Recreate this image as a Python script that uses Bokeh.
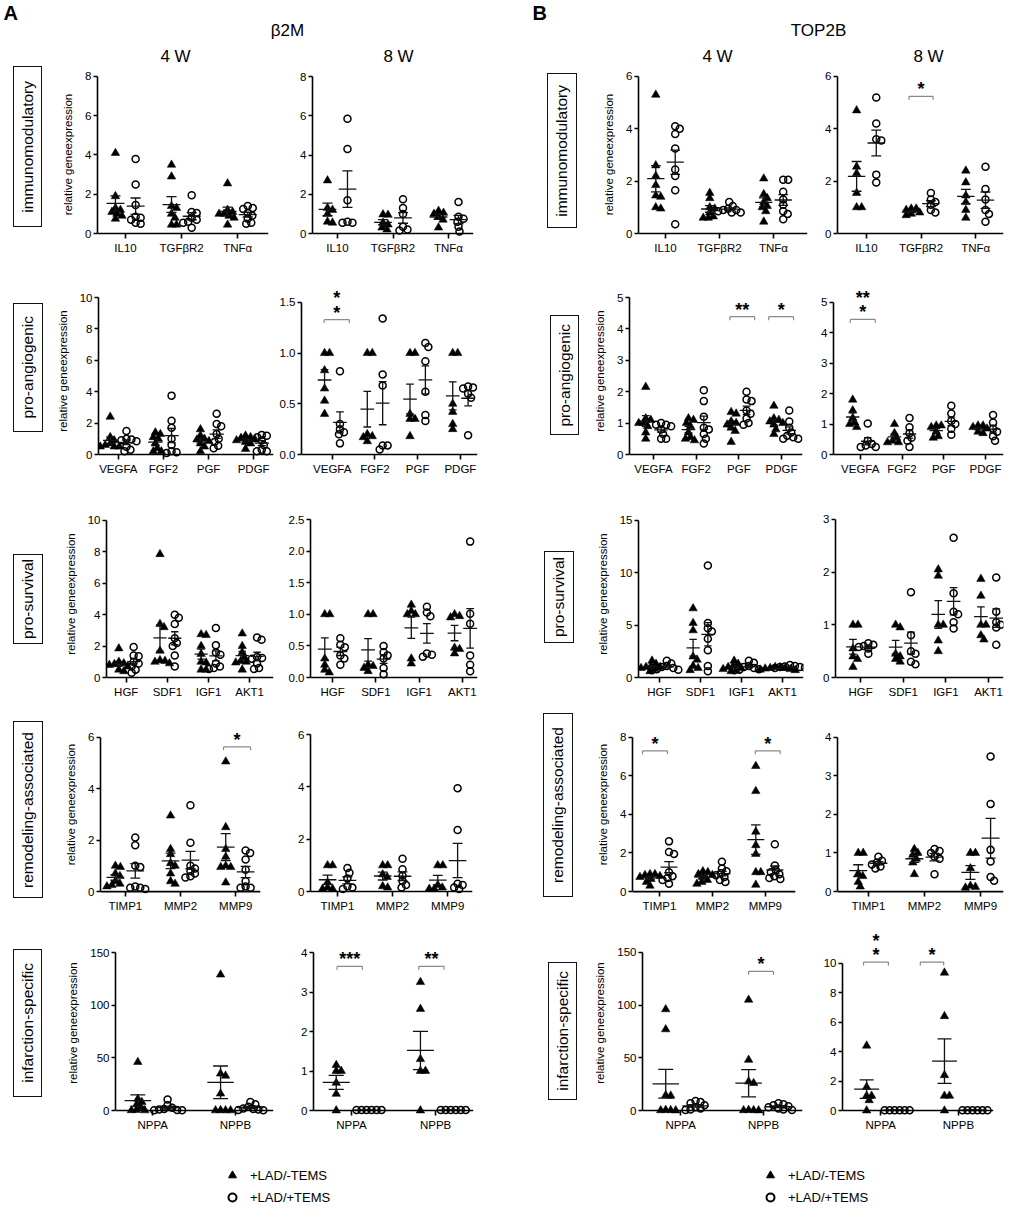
import numpy as np
from bokeh.plotting import figure
from bokeh.models import Range1d, FixedTicker, Legend, LegendItem, Span, Div
from bokeh.layouts import row, column
from bokeh.embed import file_html
from bokeh.resources import INLINE
from bokeh.core.properties import value

FONT = "Liberation Sans"

# ---------------------------------------------------------------- data
genes_imm = ["IL10", "TGFβR2", "TNFα"]
genes_ang = ["VEGFA", "FGF2", "PGF", "PDGF"]
genes_surv = ["HGF", "SDF1", "IGF1", "AKT1"]
genes_rem = ["TIMP1", "MMP2", "MMP9"]
genes_inf = ["NPPA", "NPPB"]
categories = ["immunomodulatory", "pro-angiogenic", "pro-survival",
              "remodeling-associated", "infarction-specific"]
legend_labels = ["+LAD/-TEMS", "+LAD/+TEMS"]

# immunomodulatory
b2m_4w_imm_tri = [[4.1, 1.9, 1.3, 1.2, 1.1, 1.0, 0.9, 0.75],
                  [3.5, 2.9, 1.4, 1.3, 1.0, 0.8, 0.45, 0.45],
                  [2.55, 1.2, 1.1, 1.0, 1.0, 0.9, 0.8, 0.45]]
b2m_4w_imm_circ = [[3.8, 2.5, 1.45, 0.85, 0.8, 0.7, 0.55, 0.5],
                   [1.95, 1.1, 1.05, 0.8, 0.7, 0.6, 0.55, 0.3],
                   [1.4, 1.3, 1.25, 1.05, 0.9, 0.75, 0.55, 0.5]]
b2m_8w_imm_tri = [[2.7, 1.3, 1.2, 1.0, 0.6, 0.55],
                  [0.97, 0.95, 0.55, 0.45, 0.3, 0.2],
                  [1.15, 1.05, 1.0, 0.85, 0.7, 0.3]]
b2m_8w_imm_circ = [[5.85, 4.3, 1.7, 0.6, 0.55, 0.55],
                   [1.75, 1.3, 1.0, 0.35, 0.2, 0.15],
                   [1.6, 0.85, 0.75, 0.6, 0.35, 0.1]]
top_4w_imm_tri = [[5.3, 2.6, 2.2, 1.85, 1.45, 1.4, 1.0, 0.95],
                  [1.55, 1.35, 1.0, 0.95, 0.8, 0.65, 0.6, 0.6],
                  [2.1, 1.5, 1.35, 1.2, 1.05, 1.0, 0.85, 0.45]]
top_4w_imm_circ = [[4.1, 4.0, 3.8, 3.25, 2.45, 2.2, 1.65, 0.35],
                   [1.2, 1.05, 0.95, 0.9, 0.9, 0.85, 0.8, 0.8],
                   [2.05, 2.05, 1.6, 1.3, 1.1, 0.85, 0.75, 0.55]]
top_8w_imm_tri = [[4.7, 2.55, 2.3, 1.55, 1.0, 1.0],
                  [0.95, 0.95, 0.9, 0.8, 0.75, 0.7],
                  [2.4, 1.95, 1.45, 1.2, 0.9, 0.6]]
top_8w_imm_circ = [[5.2, 4.2, 3.6, 3.55, 2.25, 1.95],
                   [1.55, 1.3, 1.2, 1.1, 0.9, 0.8],
                   [2.55, 1.7, 1.3, 0.9, 0.75, 0.45]]

# pro-angiogenic
b2m_4w_ang_tri = [[2.4, 1.1, 0.9, 0.7, 0.6, 0.5, 0.5, 0.5],
                  [1.4, 1.3, 1.1, 1.0, 0.7, 0.4, 0.2, 0.2],
                  [1.6, 1.2, 1.0, 0.95, 0.85, 0.7, 0.5, 0.2],
                  [1.2, 1.1, 1.05, 0.95, 0.9, 0.8, 0.7, 0.35]]
b2m_4w_ang_circ = [[1.5, 1.0, 0.95, 0.9, 0.85, 0.5, 0.3, 0.2],
                   [3.75, 2.15, 1.7, 1.0, 0.6, 0.2, 0.15, 0.1],
                   [2.6, 1.95, 1.8, 1.3, 1.0, 0.8, 0.55, 0.4],
                   [1.25, 1.2, 1.1, 0.9, 0.6, 0.3, 0.2, 0.2]]
b2m_8w_ang_tri = [[1.0, 1.0, 0.83, 0.65, 0.53, 0.4],
                  [1.0, 1.0, 0.2, 0.18, 0.17, 0.13],
                  [1.0, 1.0, 0.4, 0.35, 0.35, 0.18],
                  [1.0, 1.0, 0.5, 0.42, 0.3, 0.25]]
b2m_8w_ang_circ = [[0.82, 0.3, 0.25, 0.22, 0.2, 0.11],
                   [1.34, 0.79, 0.68, 0.09, 0.09, 0.05],
                   [1.1, 1.06, 0.92, 0.62, 0.39, 0.33],
                   [0.67, 0.66, 0.65, 0.6, 0.56, 0.19]]
top_4w_ang_tri = [[2.15, 1.15, 1.1, 1.0, 1.0, 0.9, 0.7, 0.5],
                  [1.15, 1.1, 1.0, 0.9, 0.7, 0.55, 0.5, 0.45],
                  [1.35, 1.3, 1.05, 1.0, 0.95, 0.85, 0.75, 0.4],
                  [1.55, 1.15, 1.1, 1.05, 1.0, 0.95, 0.8, 0.65]]
top_4w_ang_circ = [[1.0, 0.95, 0.95, 0.9, 0.8, 0.65, 0.5, 0.5],
                   [2.05, 1.7, 1.2, 0.85, 0.8, 0.65, 0.5, 0.35],
                   [2.0, 1.75, 1.7, 1.4, 1.3, 1.15, 1.0, 0.95],
                   [1.4, 1.05, 0.85, 0.7, 0.6, 0.55, 0.5, 0.5]]
top_8w_ang_tri = [[1.8, 1.45, 1.2, 1.05, 1.0, 0.9],
                  [1.0, 0.7, 0.55, 0.45, 0.4, 0.4],
                  [0.95, 0.95, 0.9, 0.75, 0.6, 0.55],
                  [0.95, 0.95, 0.9, 0.85, 0.75, 0.7]]
top_8w_ang_circ = [[1.02, 0.45, 0.35, 0.3, 0.25, 0.25],
                   [1.2, 0.9, 0.7, 0.55, 0.45, 0.25],
                   [1.6, 1.35, 1.1, 1.0, 0.85, 0.65],
                   [1.3, 1.05, 0.85, 0.75, 0.6, 0.45]]

# pro-survival
b2m_4w_surv_tri = [[1.85, 1.0, 0.9, 0.85, 0.8, 0.7, 0.5, 0.4],
                   [7.85, 3.4, 3.2, 1.7, 1.1, 1.05, 1.0, 0.9],
                   [2.75, 2.7, 2.0, 1.5, 1.0, 0.95, 0.5, 0.5],
                   [2.8, 2.0, 1.6, 1.3, 1.05, 1.0, 0.95, 0.5]]
b2m_4w_surv_circ = [[1.95, 1.4, 1.35, 1.0, 0.9, 0.7, 0.5, 0.3],
                    [4.0, 3.8, 3.4, 2.5, 2.2, 2.0, 1.4, 0.7],
                    [3.15, 2.05, 1.6, 1.45, 0.9, 0.7, 0.6, 0.55],
                    [2.55, 2.4, 1.3, 1.25, 1.2, 0.9, 0.6, 0.55]]
b2m_8w_surv_tri = [[1.0, 1.0, 0.3, 0.2, 0.12, 0.08],
                   [1.0, 1.0, 0.2, 0.18, 0.15, 0.1],
                   [1.15, 1.05, 1.0, 1.0, 0.3, 0.22],
                   [1.0, 0.97, 0.95, 0.47, 0.45, 0.38]]
b2m_8w_surv_circ = [[0.62, 0.52, 0.48, 0.35, 0.3, 0.2],
                    [0.5, 0.4, 0.35, 0.3, 0.15, 0.05],
                    [1.12, 1.03, 0.97, 0.38, 0.36, 0.33],
                    [2.15, 1.01, 0.85, 0.35, 0.2, 0.1]]
top_4w_surv_tri = [[1.6, 1.3, 1.1, 1.0, 1.0, 0.9, 0.8, 0.6],
                   [6.6, 5.2, 4.5, 2.0, 1.7, 1.1, 0.9, 0.7],
                   [1.6, 1.3, 1.1, 1.0, 0.9, 0.8, 0.7, 0.6],
                   [1.0, 0.95, 0.9, 0.9, 0.85, 0.8, 0.75, 0.7]]
top_4w_surv_circ = [[1.6, 1.35, 1.1, 1.0, 0.9, 0.8, 0.75, 0.7],
                    [10.7, 5.2, 4.7, 4.4, 3.7, 2.6, 1.1, 0.6],
                    [1.6, 1.4, 1.1, 1.0, 0.9, 0.8, 0.75, 0.7],
                    [1.2, 1.1, 1.05, 1.0, 1.0, 0.95, 0.9, 0.9]]
top_8w_surv_tri = [[1.0, 1.0, 0.55, 0.4, 0.35, 0.2],
                   [1.0, 0.95, 0.45, 0.4, 0.35, 0.3],
                   [2.05, 1.93, 1.0, 1.0, 0.7, 0.5],
                   [1.87, 1.55, 1.0, 1.0, 0.8, 0.72]]
top_8w_surv_circ = [[0.65, 0.62, 0.6, 0.58, 0.55, 0.45],
                    [1.62, 0.8, 0.5, 0.45, 0.3, 0.25],
                    [2.65, 1.6, 1.25, 1.2, 1.05, 0.93],
                    [1.9, 1.25, 1.05, 1.0, 0.95, 0.62]]

# remodeling-associated
b2m_4w_rem_tri = [[1.0, 0.95, 0.7, 0.6, 0.4, 0.3, 0.25, 0.2],
                  [2.95, 1.65, 1.45, 1.1, 1.0, 0.7, 0.4, 0.3],
                  [5.05, 2.5, 1.65, 1.35, 1.0, 0.95, 0.95, 0.35]]
b2m_4w_rem_circ = [[2.1, 1.8, 1.0, 0.95, 0.2, 0.15, 0.15, 0.1],
                   [3.35, 1.9, 1.0, 0.9, 0.8, 0.7, 0.6, 0.55],
                   [1.6, 1.5, 1.25, 0.85, 0.4, 0.2, 0.15, 0.15]]
b2m_8w_rem_tri = [[1.0, 1.0, 0.35, 0.15, 0.1, 0.1],
                  [1.0, 1.0, 0.65, 0.55, 0.2, 0.15],
                  [1.0, 1.0, 0.25, 0.15, 0.1, 0.1]]
b2m_8w_rem_circ = [[0.9, 0.72, 0.5, 0.2, 0.15, 0.1],
                   [1.25, 0.85, 0.6, 0.4, 0.25, 0.15],
                   [3.95, 2.35, 0.3, 0.25, 0.15, 0.1]]
top_4w_rem_tri = [[0.9, 0.9, 0.85, 0.8, 0.75, 0.65, 0.5, 0.3],
                  [1.05, 1.0, 0.9, 0.85, 0.75, 0.6, 0.5, 0.4],
                  [6.5, 5.2, 3.1, 2.4, 1.95, 1.0, 1.0, 0.35]]
top_4w_rem_circ = [[2.6, 2.05, 1.95, 1.0, 0.8, 0.7, 0.6, 0.4],
                   [1.55, 1.2, 1.05, 0.95, 0.85, 0.75, 0.6, 0.5],
                   [2.45, 1.35, 1.1, 1.0, 0.9, 0.8, 0.7, 0.65]]
top_8w_rem_tri = [[1.0, 1.0, 0.47, 0.4, 0.25, 0.13],
                  [1.1, 1.0, 0.95, 0.85, 0.75, 0.45],
                  [1.0, 1.0, 0.6, 0.15, 0.12, 0.1]]
top_8w_rem_circ = [[0.9, 0.8, 0.75, 0.7, 0.65, 0.6],
                   [1.1, 1.05, 1.0, 0.9, 0.85, 0.45],
                   [3.5, 2.27, 1.08, 0.78, 0.38, 0.28]]

# infarction-specific
b2m_4w_inf_tri = [[46, 11, 8, 6, 3, 0.5, 0.2, 0.1],
                  [129, 35, 33, 16, 0.3, 0.2, 0.1, 0.1]]
b2m_4w_inf_circ = [[10.5, 5, 2.5, 1.5, 1, 0.5, 0.3, 0.2],
                   [8, 6, 3.5, 2, 1.5, 1, 0.5, 0.3]]
b2m_8w_inf_tri = [[1.15, 1.0, 1.0, 0.7, 0.42, 0.0],
                  [3.25, 2.57, 1.3, 1.0, 1.0, 0.0]]
b2m_8w_inf_circ = [[0.01, 0.01, 0.01, 0.01, 0.01, 0.01],
                   [0.01, 0.01, 0.01, 0.01, 0.01, 0.01]]
top_4w_inf_tri = [[96, 77, 14.5, 14, 0.5, 0.3, 0.2, 0.1],
                  [105, 48, 27.5, 26, 0.5, 0.3, 0.2, 0.1]]
top_4w_inf_circ = [[9, 8, 7, 5, 3, 2, 1, 0.5],
                   [7, 6, 5, 4, 3, 2, 1, 0.5]]
top_8w_inf_tri = [[4.4, 1.6, 1.0, 1.0, 0.7, 0.0],
                  [9.35, 6.4, 2.4, 1.0, 1.0, 0.0]]
top_8w_inf_circ = [[0.02, 0.02, 0.02, 0.02, 0.02, 0.02],
                   [0.02, 0.02, 0.02, 0.02, 0.02, 0.02]]

# y ticks
yt_b2m_4w_imm = [0, 2, 4, 6, 8]
yt_b2m_8w_imm = [0, 2, 4, 6, 8]
yt_top_4w_imm = [0, 2, 4, 6]
yt_top_8w_imm = [0, 2, 4, 6]
yt_b2m_4w_ang = [0, 2, 4, 6, 8, 10]
yt_b2m_8w_ang = [0.0, 0.5, 1.0, 1.5]
yt_top_4w_ang = [0, 1, 2, 3, 4, 5]
yt_top_8w_ang = [0, 1, 2, 3, 4, 5]
yt_b2m_4w_surv = [0, 2, 4, 6, 8, 10]
yt_b2m_8w_surv = [0.0, 0.5, 1.0, 1.5, 2.0, 2.5]
yt_top_4w_surv = [0, 5, 10, 15]
yt_top_8w_surv = [0, 1, 2, 3]
yt_b2m_4w_rem = [0, 2, 4, 6]
yt_b2m_8w_rem = [0, 2, 4, 6]
yt_top_4w_rem = [0, 2, 4, 6, 8]
yt_top_8w_rem = [0, 1, 2, 3, 4]
yt_b2m_4w_inf = [0, 50, 100, 150]
yt_b2m_8w_inf = [0, 1, 2, 3, 4]
yt_top_4w_inf = [0, 50, 100, 150]
yt_top_8w_inf = [0, 2, 4, 6, 8, 10]

# significance: (gene, stars, bracket height)
sig_top_8w_imm = [("TGFβR2", "*", 5.24)]
sig_b2m_8w_ang = [("VEGFA", "*\n*", 1.33)]
sig_top_4w_ang = [("PGF", "**", 4.39), ("PDGF", "*", 4.39)]
sig_top_8w_ang = [("VEGFA", "**\n*", 4.44)]
sig_b2m_4w_rem = [("MMP9", "*", 5.62)]
sig_top_4w_rem = [("TIMP1", "*", 7.29), ("MMP9", "*", 7.29)]
sig_b2m_8w_inf = [("NPPA", "***", 3.65), ("NPPB", "**", 3.65)]
sig_top_4w_inf = [("NPPB", "*", 132)]
sig_top_8w_inf = [("NPPA", "*\n*", 10.07), ("NPPB", "*", 10.07)]

# ---------------------------------------------------------------- layout
COLS = [0, 50, 276, 505, 590, 818, 1008]          # page x of columns
BANDS = [(70, 282), (282, 505), (505, 712), (712, 930), (930, 1145)]
HEAD = (0, 70)
FOOT = (1145, 1210)
GROUP_OFF = 0.18
MEAN_HW = 0.16
CAP_HW = 0.09
PAD = 5
YLAB = "relative geneexpression"

# frame geometry: left, right, y of 0, y of top tick, x start, x end
GEO = {
    "b2m_4w_imm": (97, 268, 234, 76, 0.5, 3.55),
    "b2m_8w_imm": (312, 473, 233, 76, 0.55, 3.45),
    "top_4w_imm": (638, 807, 234, 76, 0.5, 3.63),
    "top_8w_imm": (837, 1003, 234, 76, 0.47, 3.51),
    "b2m_4w_ang": (98, 273, 454, 297, 0.56, 4.44),
    "b2m_8w_ang": (300, 477, 455, 302, 0.28, 4.4),
    "top_4w_ang": (629, 802, 454, 297, 0.44, 4.49),
    "top_8w_ang": (833, 1003, 455, 302, 0.36, 4.43),
    "b2m_4w_surv": (106, 273, 678, 520, 0.52, 4.58),
    "b2m_8w_surv": (310, 477, 677, 519, 0.49, 4.35),
    "top_4w_surv": (638, 803, 678, 520, 0.49, 4.51),
    "top_8w_surv": (835, 1003, 678, 519, 0.41, 4.35),
    "b2m_4w_rem": (100, 260, 894, 737, 0.55, 3.45),
    "b2m_8w_rem": (310, 472, 891, 734, 0.51, 3.45),
    "top_4w_rem": (632, 795, 894, 737, 0.49, 3.57),
    "top_8w_rem": (837, 1003, 894, 737, 0.45, 3.41),
    "b2m_4w_inf": (115, 273, 1110, 952, 0.55, 2.46),
    "b2m_8w_inf": (313, 473, 1110, 952, 0.55, 2.45),
    "top_4w_inf": (642, 802, 1111, 952, 0.54, 2.47),
    "top_8w_inf": (842, 993, 1112, 963, 0.51, 2.45),
}
BRK = {
    "top_8w_imm": [(-0.22, 0.22)],
    "b2m_8w_ang": [(-0.19, 0.4)],
    "top_4w_ang": [(-0.21, 0.37), (-0.3, 0.28)],
    "top_8w_ang": [(-0.24, 0.36)],
    "b2m_4w_rem": [(-0.22, 0.27)],
    "top_4w_rem": [(-0.32, 0.15), (-0.19, 0.28)],
    "b2m_8w_inf": [(-0.17, 0.13), (-0.2, 0.1)],
    "top_4w_inf": [(-0.18, 0.12)],
    "top_8w_inf": [(-0.22, 0.1), (-0.49, -0.19)],
}
BOX_A = [(13, 42, 66, 227), (13, 43, 303, 432), (13, 43, 554, 644), (13, 43, 721, 898), (13, 42, 949, 1097)]
BOX_B = [(547, 577, 73, 228), (550, 579, 315, 435), (544, 574, 551, 643), (543, 573, 713, 897), (548, 577, 962, 1100)]


def swarm(vals, ppy, d=5.0):
    vals = np.asarray(vals, float)
    cands = [0.0]
    for k in range(1, 60):
        cands += [0.5 * k, -0.5 * k]
    placed = []
    out = np.zeros(len(vals))
    for i in np.argsort(-vals, kind="stable"):
        y = vals[i] * ppy
        for c in cands:
            if all((c - px) ** 2 + (y - py) ** 2 >= d * d for px, py in placed):
                break
        placed.append((c, y))
        out[i] = c
    return out


def fmt(t, ticks):
    if any(float(v) != int(v) for v in ticks):
        return f"{t:.1f}"
    return str(int(t))


def style_axis(ax):
    ax.axis_line_width = 1.6
    ax.axis_line_color = "black"
    ax.major_tick_line_width = 1.6
    ax.major_tick_line_color = "black"
    ax.minor_tick_line_color = None
    ax.major_label_text_font = FONT
    ax.major_label_text_font_size = "11.5px"
    ax.major_label_text_color = "black"


def panel(key, tri, circ, genes, yticks, col, band, sig=(), ylabel=None):
    fl, fr, y0, yt, xs, xe = GEO[key]
    cl, cr = COLS[col], COLS[col + 1]
    bt, bb = band
    top = yticks[-1]
    ppy = (y0 - yt) / top
    ppx = (fr - fl) / (xe - xs)
    p = figure(width=cr - cl, height=bb - bt, title=None,
               x_range=Range1d(xs, xe),
               y_range=Range1d(-PAD / ppy, top + (yt - bt) / ppy),
               output_backend="svg", toolbar_location=None,
               min_border_left=fl - cl, min_border_right=cr - fr,
               min_border_top=0, min_border_bottom=bb - (y0 + PAD))
    p.outline_line_color = None
    p.grid.visible = False
    p.background_fill_color = "white"

    tx, ty, cx, cy = [], [], [], []
    sx0, sy0, sx1, sy1 = [], [], [], []

    def seg(a, b, c, d):
        sx0.append(a); sy0.append(b); sx1.append(c); sy1.append(d)

    for gi in range(len(genes)):
        for vals, off, X, Y in ((tri[gi], -GROUP_OFF, tx, ty), (circ[gi], GROUP_OFF, cx, cy)):
            v = np.asarray(vals, float)
            c = gi + 1 + off
            X.extend(list(c + swarm(v, ppy) / ppx))
            Y.extend(list(v))
            m = v.mean()
            s = v.std(ddof=1) / np.sqrt(len(v))
            seg(c - MEAN_HW, m, c + MEAN_HW, m)
            seg(c, m - s, c, m + s)
            seg(c - CAP_HW, m + s, c + CAP_HW, m + s)
            seg(c - CAP_HW, m - s, c + CAP_HW, m - s)

    # zero line (x axis line)
    p.add_layout(Span(location=0, dimension="width", line_color="black", line_width=1.6))

    p.scatter(tx, ty, marker="triangle", size=8.5, fill_color="black", line_color="black", line_width=0.5)
    p.scatter(cx, cy, marker="circle", size=7, fill_color=None, line_color="black", line_width=1.5)
    p.segment(sx0, sy0, sx1, sy1, line_color="#111111", line_width=1.3)

    for (g, txt, yv), (b0, b1) in zip(sig, BRK.get(key, [])):
        gi = genes.index(g) + 1
        xa, xb = gi + b0, gi + b1
        tk = 3.5 / ppy
        p.segment([xa, xa, xb], [yv, yv, yv], [xb, xa, xb], [yv, yv - tk, yv - tk],
                  line_color="#8a8a8a", line_width=1.2)
        for k, line in enumerate(reversed(txt.split("\n"))):
            p.text(x=[(xa + xb) / 2], y=[yv + (7 + 14.5 * k) / ppy], text=[line],
                   text_align="center", text_baseline="middle",
                   text_font=value(FONT), text_font_size="18px", text_font_style="bold",
                   text_color="black")

    n = len(genes)
    xa_ = p.xaxis[0]
    ya_ = p.yaxis[0]
    style_axis(xa_)
    style_axis(ya_)
    xa_.ticker = FixedTicker(ticks=list(range(1, n + 1)))
    xa_.major_label_overrides = {i + 1: g for i, g in enumerate(genes)}
    xa_.axis_line_color = None
    xa_.major_tick_in = PAD
    xa_.major_tick_out = 0
    xa_.major_label_standoff = 3
    ya_.ticker = FixedTicker(ticks=list(yticks))
    ya_.major_label_overrides = {t: fmt(t, yticks) for t in yticks}
    ya_.bounds = (0, top)
    ya_.major_tick_out = 4
    ya_.major_tick_in = 0
    ya_.major_label_standoff = 2
    if ylabel:
        ya_.axis_label = ylabel
        ya_.axis_label_text_font = FONT
        ya_.axis_label_text_font_size = "11.5px"
        ya_.axis_label_text_font_style = "normal"
        ya_.axis_label_text_color = "black"
        ya_.axis_label_standoff = 8
    return p


def blank(x0, x1, y0, y1):
    p = figure(width=x1 - x0, height=y1 - y0, title=None, x_range=Range1d(x0, x1),
               y_range=Range1d(y1, y0), x_axis_type=None, y_axis_type=None,
               output_backend="svg", toolbar_location=None, min_border=0)
    p.outline_line_color = None
    p.grid.visible = False
    return p


def box_div(col, band, box, text):
    cl, cr = COLS[col], COLS[col + 1]
    bt, bb = band
    x0, x1, y0, y1 = box
    html = (
        f'<div style="position:relative;width:{cr - cl}px;height:{bb - bt}px;">'
        f'<div style="position:absolute;left:{x0 - cl}px;top:{y0 - bt}px;'
        f'width:{x1 - x0}px;height:{y1 - y0}px;box-sizing:border-box;'
        f'border:1.4px solid #111;background:#fff;display:flex;'
        f'align-items:center;justify-content:center;">'
        f'<span style="writing-mode:vertical-rl;transform:rotate(180deg);'
        f"font-family:'{FONT}',Arial,sans-serif;font-size:15.5px;color:#000;"
        f'white-space:nowrap;line-height:1;">{text}</span></div></div>'
    )
    return Div(text=html, width=cr - cl, height=bb - bt, margin=0)


specs = [
    (genes_imm, [
        ("b2m_4w_imm", b2m_4w_imm_tri, b2m_4w_imm_circ, yt_b2m_4w_imm, ()),
        ("b2m_8w_imm", b2m_8w_imm_tri, b2m_8w_imm_circ, yt_b2m_8w_imm, ()),
        ("top_4w_imm", top_4w_imm_tri, top_4w_imm_circ, yt_top_4w_imm, ()),
        ("top_8w_imm", top_8w_imm_tri, top_8w_imm_circ, yt_top_8w_imm, sig_top_8w_imm)]),
    (genes_ang, [
        ("b2m_4w_ang", b2m_4w_ang_tri, b2m_4w_ang_circ, yt_b2m_4w_ang, ()),
        ("b2m_8w_ang", b2m_8w_ang_tri, b2m_8w_ang_circ, yt_b2m_8w_ang, sig_b2m_8w_ang),
        ("top_4w_ang", top_4w_ang_tri, top_4w_ang_circ, yt_top_4w_ang, sig_top_4w_ang),
        ("top_8w_ang", top_8w_ang_tri, top_8w_ang_circ, yt_top_8w_ang, sig_top_8w_ang)]),
    (genes_surv, [
        ("b2m_4w_surv", b2m_4w_surv_tri, b2m_4w_surv_circ, yt_b2m_4w_surv, ()),
        ("b2m_8w_surv", b2m_8w_surv_tri, b2m_8w_surv_circ, yt_b2m_8w_surv, ()),
        ("top_4w_surv", top_4w_surv_tri, top_4w_surv_circ, yt_top_4w_surv, ()),
        ("top_8w_surv", top_8w_surv_tri, top_8w_surv_circ, yt_top_8w_surv, ())]),
    (genes_rem, [
        ("b2m_4w_rem", b2m_4w_rem_tri, b2m_4w_rem_circ, yt_b2m_4w_rem, sig_b2m_4w_rem),
        ("b2m_8w_rem", b2m_8w_rem_tri, b2m_8w_rem_circ, yt_b2m_8w_rem, ()),
        ("top_4w_rem", top_4w_rem_tri, top_4w_rem_circ, yt_top_4w_rem, sig_top_4w_rem),
        ("top_8w_rem", top_8w_rem_tri, top_8w_rem_circ, yt_top_8w_rem, ())]),
    (genes_inf, [
        ("b2m_4w_inf", b2m_4w_inf_tri, b2m_4w_inf_circ, yt_b2m_4w_inf, ()),
        ("b2m_8w_inf", b2m_8w_inf_tri, b2m_8w_inf_circ, yt_b2m_8w_inf, sig_b2m_8w_inf),
        ("top_4w_inf", top_4w_inf_tri, top_4w_inf_circ, yt_top_4w_inf, sig_top_4w_inf),
        ("top_8w_inf", top_8w_inf_tri, top_8w_inf_circ, yt_top_8w_inf, sig_top_8w_inf)]),
]

rows = []
for ri, (genes, pans) in enumerate(specs):
    band = BANDS[ri]
    figs = [box_div(0, band, BOX_A[ri], categories[ri])]
    for pi, (key, tri, circ, yt, sig) in enumerate(pans):
        col = {0: 1, 1: 2, 2: 4, 3: 5}[pi]
        if pi == 2:
            figs.append(box_div(3, band, BOX_B[ri], categories[ri]))
        figs.append(panel(key, tri, circ, genes, yt, col, band, sig,
                          YLAB if pi in (0, 2) else None))
    rows.append(row(*figs, spacing=0))

# header
hdr = blank(COLS[0], COLS[-1], HEAD[0], HEAD[1])
hdr.text(x=[3, 532], y=[12, 12], text=["A", "B"], text_align="left", text_baseline="middle",
         text_font=value(FONT), text_font_size="20px", text_font_style="bold", text_color="black")
hdr.text(x=[287, 818], y=[30, 30], text=["β2M", "TOP2B"], text_align="center",
         text_baseline="middle", text_font=value(FONT), text_font_size="17px", text_color="black")
hdr.text(x=[175, 398, 717, 928], y=[56, 56, 56, 56], text=["4 W", "8 W", "4 W", "8 W"],
         text_align="center", text_baseline="middle", text_font=value(FONT),
         text_font_size="17px", text_color="black")

# legend
leg = blank(COLS[0], COLS[-1], FOOT[0], FOOT[1])
r_tri = leg.scatter(x=[-100], y=[-100], marker="triangle", size=8, fill_color="black", line_color="black")
r_circ = leg.scatter(x=[-100], y=[-100], marker="circle", size=8, fill_color=None, line_color="black", line_width=2)
for lx in (222, 760):
    lg = Legend(items=[LegendItem(label=legend_labels[0], renderers=[r_tri]),
                       LegendItem(label=legend_labels[1], renderers=[r_circ])],
                location=(lx, FOOT[1] - 1207), orientation="vertical", border_line_color=None,
                background_fill_alpha=0, padding=0, margin=0, spacing=2,
                glyph_width=20, glyph_height=20, label_height=20, label_standoff=8,
                label_text_font=FONT, label_text_font_size="13px", label_text_color="black")
    leg.add_layout(lg)

page = column(hdr, *rows, leg, spacing=0)
open("out.html", "w").write(file_html(page, INLINE))
